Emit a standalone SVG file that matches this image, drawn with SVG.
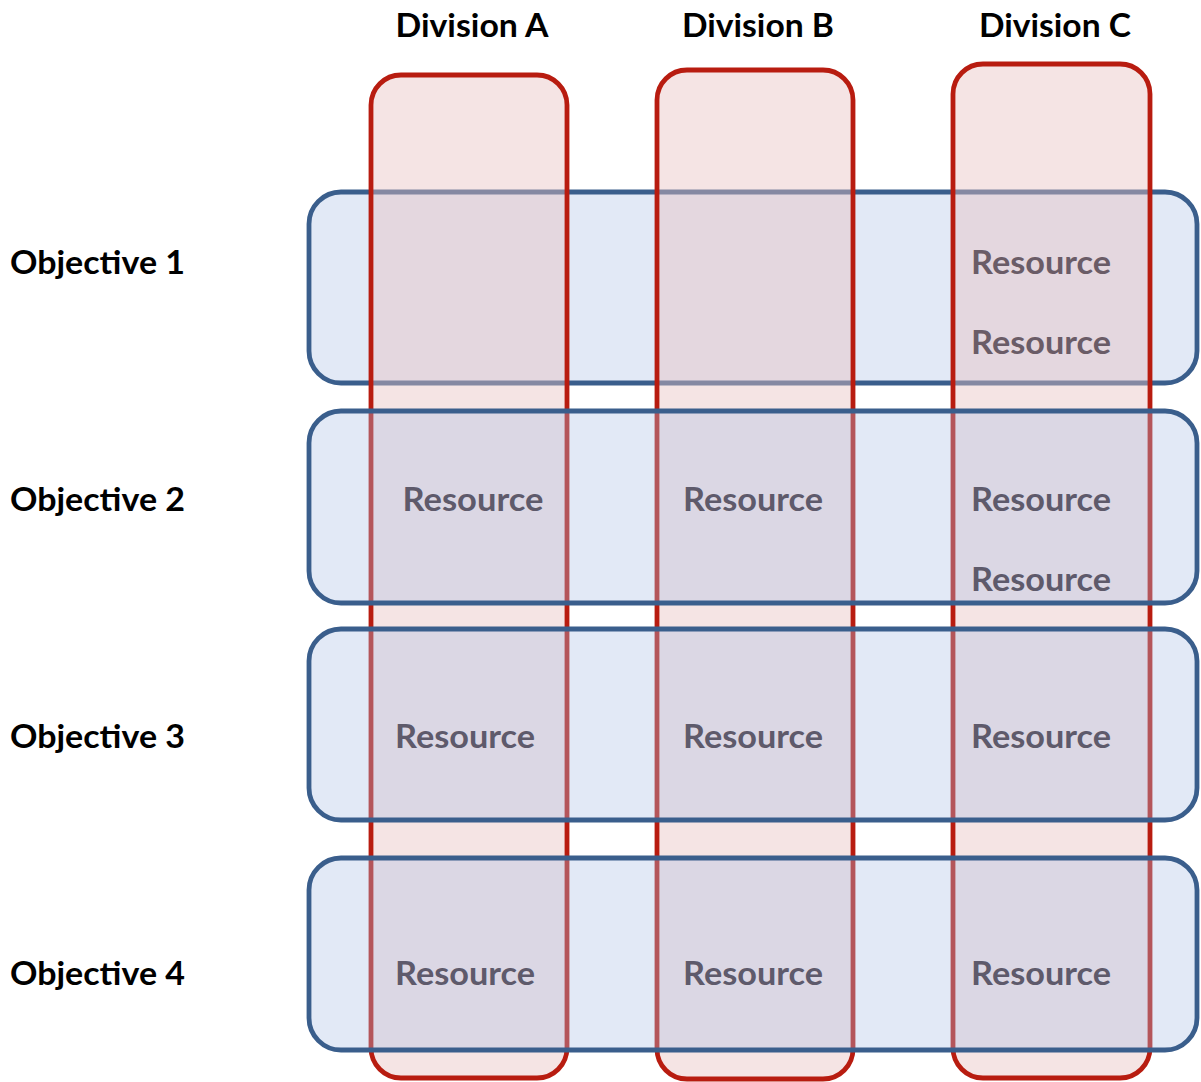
<svg xmlns="http://www.w3.org/2000/svg" width="1201" height="1082" viewBox="0 0 1201 1082">
<style>
.obj{fill:rgb(172,192,229);fill-opacity:0.35;stroke:#3a5e8c;stroke-width:4.8}
.div{fill:rgb(232,192,192);fill-opacity:0.43;stroke:#b81c10;stroke-width:4.8}
.hdr{font-family:Lato,"Open Sans",sans-serif;font-weight:700;font-size:32px;fill:#000}
.res{font-family:Lato,"Open Sans",sans-serif;font-weight:700;font-size:32px;fill:#5e5a6b;text-anchor:middle}
.res1{fill:#6a5c67}
</style>
<rect width="1201" height="1082" fill="#ffffff"/>
<g id="objective1">
<rect class="obj" x="309" y="192" width="888" height="191" rx="32"/>
</g>
<g id="divisionA">
<rect class="div" x="371" y="75" width="196" height="1003" rx="30"/>
</g>
<g id="divisionB">
<rect class="div" x="657" y="70" width="196" height="1009" rx="30"/>
</g>
<g id="divisionC">
<rect class="div" x="953" y="64" width="197" height="1014" rx="30"/>
</g>
<g id="objective2">
<rect class="obj" x="309" y="411" width="888" height="192" rx="32"/>
</g>
<g id="objective3">
<rect class="obj" x="309" y="629" width="888" height="191" rx="32"/>
</g>
<g id="objective4">
<rect class="obj" x="309" y="858" width="888" height="192" rx="32"/>
</g>
<g id="headers">
<text class="hdr" x="472" y="37" text-anchor="middle" textLength="153" lengthAdjust="spacingAndGlyphs">Division A</text>
<text class="hdr" x="758" y="37" text-anchor="middle" textLength="152" lengthAdjust="spacingAndGlyphs">Division B</text>
<text class="hdr" x="1055" y="37" text-anchor="middle" textLength="152" lengthAdjust="spacingAndGlyphs">Division C</text>
<text class="hdr" x="10" y="274" textLength="175" lengthAdjust="spacingAndGlyphs">Objective 1</text>
<text class="hdr" x="10" y="511" textLength="175" lengthAdjust="spacingAndGlyphs">Objective 2</text>
<text class="hdr" x="10" y="748" textLength="175" lengthAdjust="spacingAndGlyphs">Objective 3</text>
<text class="hdr" x="10" y="985" textLength="175" lengthAdjust="spacingAndGlyphs">Objective 4</text>
</g>
<g id="resources">
<text class="res res1" x="1041" y="274" textLength="140" lengthAdjust="spacingAndGlyphs">Resource</text>
<text class="res res1" x="1041" y="354" textLength="140" lengthAdjust="spacingAndGlyphs">Resource</text>
<text class="res" x="473" y="511" textLength="141" lengthAdjust="spacingAndGlyphs">Resource</text>
<text class="res" x="753" y="511" textLength="140" lengthAdjust="spacingAndGlyphs">Resource</text>
<text class="res" x="1041" y="511" textLength="140" lengthAdjust="spacingAndGlyphs">Resource</text>
<text class="res" x="1041" y="591" textLength="140" lengthAdjust="spacingAndGlyphs">Resource</text>
<text class="res" x="465" y="748" textLength="140" lengthAdjust="spacingAndGlyphs">Resource</text>
<text class="res" x="753" y="748" textLength="140" lengthAdjust="spacingAndGlyphs">Resource</text>
<text class="res" x="1041" y="748" textLength="140" lengthAdjust="spacingAndGlyphs">Resource</text>
<text class="res" x="465" y="985" textLength="140" lengthAdjust="spacingAndGlyphs">Resource</text>
<text class="res" x="753" y="985" textLength="140" lengthAdjust="spacingAndGlyphs">Resource</text>
<text class="res" x="1041" y="985" textLength="140" lengthAdjust="spacingAndGlyphs">Resource</text>
</g>
</svg>
